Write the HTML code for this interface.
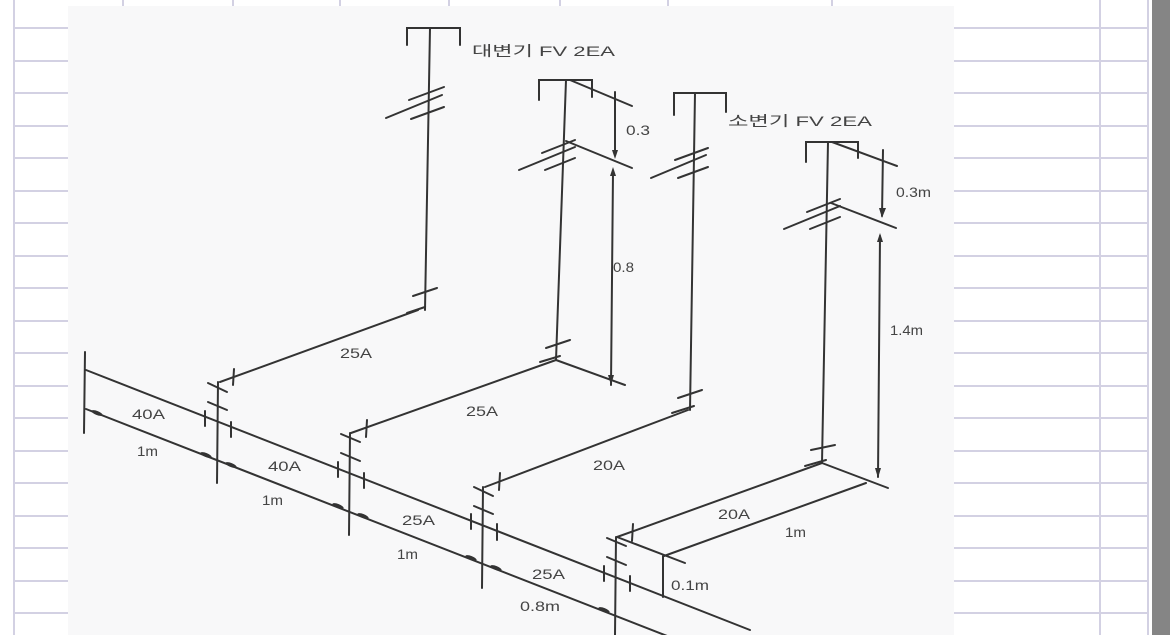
<!DOCTYPE html>
<html><head><meta charset="utf-8"><style>
html,body{margin:0;padding:0;background:#fff;}
svg{display:block;}
text{font-family:"Liberation Sans","Noto Sans CJK KR",sans-serif;font-size:14px;fill:#444;}
</style></head><body>
<svg width="1170" height="635" viewBox="0 0 1170 635" xmlns="http://www.w3.org/2000/svg">
<rect width="1170" height="635" fill="#fff"/>
<g stroke="#d3d1e3" stroke-width="2">
<line x1="14" y1="0" x2="14" y2="635"/>
<line x1="1100" y1="0" x2="1100" y2="635"/>
<line x1="1148" y1="0" x2="1148" y2="635"/>
<line x1="14" y1="28" x2="1148" y2="28"/><line x1="14" y1="61" x2="1148" y2="61"/>
<line x1="14" y1="93" x2="1148" y2="93"/><line x1="14" y1="126" x2="1148" y2="126"/>
<line x1="14" y1="158" x2="1148" y2="158"/><line x1="14" y1="191" x2="1148" y2="191"/>
<line x1="14" y1="223" x2="1148" y2="223"/><line x1="14" y1="256" x2="1148" y2="256"/>
<line x1="14" y1="288" x2="1148" y2="288"/><line x1="14" y1="321" x2="1148" y2="321"/>
<line x1="14" y1="353" x2="1148" y2="353"/><line x1="14" y1="386" x2="1148" y2="386"/>
<line x1="14" y1="418" x2="1148" y2="418"/><line x1="14" y1="451" x2="1148" y2="451"/>
<line x1="14" y1="483" x2="1148" y2="483"/><line x1="14" y1="516" x2="1148" y2="516"/>
<line x1="14" y1="548" x2="1148" y2="548"/><line x1="14" y1="581" x2="1148" y2="581"/>
<line x1="14" y1="613" x2="1148" y2="613"/>
<line x1="123" y1="0" x2="123" y2="10"/><line x1="233" y1="0" x2="233" y2="10"/>
<line x1="340" y1="0" x2="340" y2="10"/><line x1="449" y1="0" x2="449" y2="10"/>
<line x1="560" y1="0" x2="560" y2="10"/><line x1="668" y1="0" x2="668" y2="10"/>
<line x1="832" y1="0" x2="832" y2="10"/>
</g>
<rect x="1152" y="0" width="18" height="635" fill="#858585"/>
<rect x="68" y="6" width="886" height="629" fill="#f8f8f9"/>

<g stroke="#333" stroke-width="2" fill="none" stroke-linecap="round">
<line x1="86" y1="370" x2="750" y2="630"/>
<line x1="86" y1="409" x2="680" y2="641"/>
<line x1="85" y1="352" x2="84" y2="433"/>
<line x1="218" y1="382" x2="217" y2="483"/>
<line x1="350" y1="433" x2="349" y2="535"/>
<line x1="483" y1="487" x2="482" y2="588"/>
<line x1="616" y1="537" x2="615" y2="635"/>
<line x1="220" y1="382" x2="418" y2="310"/>
<line x1="351" y1="433" x2="556" y2="360"/>
<line x1="485" y1="487" x2="688" y2="410"/>
<line x1="617" y1="537" x2="822" y2="463"/>
<line x1="425" y1="310" x2="430" y2="28"/>
<line x1="556" y1="360" x2="566" y2="80"/>
<line x1="690" y1="410" x2="695" y2="93"/>
<line x1="822" y1="463" x2="828" y2="142"/>
<polyline points="407,45 407,28 460,28 460,45"/>
<polyline points="539,100 539,80 592,80 592,97"/>
<polyline points="674,115 674,93 726,93 726,112"/>
<polyline points="806,162 806,142 858,142 858,158"/>
<line x1="386" y1="118" x2="442" y2="95"/><line x1="409" y1="100" x2="444" y2="87"/><line x1="411" y1="119" x2="444" y2="107"/>
<line x1="519" y1="170" x2="575" y2="147"/><line x1="542" y1="153" x2="575" y2="140"/><line x1="545" y1="170" x2="575" y2="158"/>
<line x1="651" y1="178" x2="706" y2="155"/><line x1="675" y1="160" x2="708" y2="148"/><line x1="678" y1="178" x2="708" y2="167"/>
<line x1="784" y1="229" x2="840" y2="206"/><line x1="807" y1="212" x2="840" y2="199"/><line x1="810" y1="229" x2="840" y2="217"/>
<line x1="570" y1="80" x2="632" y2="106"/><line x1="566" y1="141" x2="632" y2="168"/>
<line x1="556" y1="360" x2="625" y2="385"/>
<line x1="832" y1="142" x2="897" y2="166"/><line x1="831" y1="203" x2="896" y2="228"/>
<line x1="822" y1="463" x2="888" y2="488"/>
<line x1="617" y1="537" x2="685" y2="563"/>
<line x1="664" y1="556" x2="866" y2="483"/>
<line x1="663" y1="556" x2="663" y2="597"/>
<line x1="615" y1="92" x2="615" y2="155"/><line x1="613" y1="172" x2="611" y2="385"/>
<line x1="883" y1="150" x2="882" y2="216"/><line x1="880" y1="236" x2="878" y2="477"/>
<line x1="413" y1="296" x2="437" y2="288"/><line x1="407" y1="313" x2="425" y2="307"/>
<line x1="546" y1="348" x2="570" y2="340"/><line x1="540" y1="362" x2="560" y2="356"/>
<line x1="678" y1="398" x2="702" y2="390"/><line x1="672" y1="413" x2="694" y2="406"/>
<line x1="811" y1="450" x2="835" y2="445"/><line x1="805" y1="466" x2="826" y2="460"/>
<line x1="208" y1="383" x2="227" y2="392"/><line x1="208" y1="402" x2="227" y2="410"/>
<line x1="234" y1="369" x2="233" y2="385"/>
<line x1="205" y1="411" x2="205" y2="426"/><line x1="231" y1="422" x2="231" y2="437"/>
<line x1="341" y1="434" x2="360" y2="442"/><line x1="341" y1="453" x2="360" y2="461"/>
<line x1="367" y1="420" x2="366" y2="437"/>
<line x1="338" y1="462" x2="338" y2="477"/><line x1="364" y1="473" x2="364" y2="488"/>
<line x1="474" y1="487" x2="493" y2="496"/><line x1="474" y1="506" x2="493" y2="514"/>
<line x1="500" y1="473" x2="499" y2="490"/>
<line x1="471" y1="514" x2="471" y2="529"/><line x1="497" y1="524" x2="497" y2="540"/>
<line x1="607" y1="538" x2="626" y2="546"/><line x1="607" y1="557" x2="626" y2="565"/>
<line x1="633" y1="524" x2="632" y2="541"/>
<line x1="604" y1="566" x2="604" y2="581"/><line x1="630" y1="576" x2="630" y2="591"/>
</g>
<g fill="#333">
<ellipse cx="97" cy="413" rx="6" ry="2" transform="rotate(21 97 413)"/>
<ellipse cx="206" cy="455" rx="6" ry="2" transform="rotate(21 206 455)"/>
<ellipse cx="231" cy="465" rx="6" ry="2" transform="rotate(21 231 465)"/>
<ellipse cx="338" cy="506" rx="6" ry="2" transform="rotate(21 338 506)"/>
<ellipse cx="363" cy="516" rx="6" ry="2" transform="rotate(21 363 516)"/>
<ellipse cx="471" cy="558" rx="6" ry="2" transform="rotate(21 471 558)"/>
<ellipse cx="496" cy="568" rx="6" ry="2" transform="rotate(21 496 568)"/>
<ellipse cx="604" cy="610" rx="6" ry="2" transform="rotate(21 604 610)"/>
<polygon points="612,150 618,150 615,159"/><polygon points="610,176 616,176 613,167"/>
<polygon points="608,375 614,375 611,385"/>
<polygon points="879,208 886,208 882,218"/><polygon points="877,242 883,242 880,233"/>
<polygon points="875,468 881,468 878,478"/>
</g>
<g>
<text x="472" y="56" textLength="143" lengthAdjust="spacingAndGlyphs">대변기 FV 2EA</text>
<text x="626" y="135" textLength="24" lengthAdjust="spacingAndGlyphs">0.3</text>
<text x="613" y="272" textLength="21" lengthAdjust="spacingAndGlyphs">0.8</text>
<text x="728" y="126" textLength="144" lengthAdjust="spacingAndGlyphs">소변기 FV 2EA</text>
<text x="896" y="197" textLength="35" lengthAdjust="spacingAndGlyphs">0.3m</text>
<text x="890" y="335" textLength="33" lengthAdjust="spacingAndGlyphs">1.4m</text>
<text x="340" y="358" textLength="32" lengthAdjust="spacingAndGlyphs">25A</text>
<text x="466" y="416" textLength="32" lengthAdjust="spacingAndGlyphs">25A</text>
<text x="593" y="470" textLength="32" lengthAdjust="spacingAndGlyphs">20A</text>
<text x="718" y="519" textLength="32" lengthAdjust="spacingAndGlyphs">20A</text>
<text x="785" y="537" textLength="21" lengthAdjust="spacingAndGlyphs">1m</text>
<text x="671" y="590" textLength="38" lengthAdjust="spacingAndGlyphs">0.1m</text>
<text x="132" y="419" textLength="33" lengthAdjust="spacingAndGlyphs">40A</text>
<text x="137" y="456" textLength="21" lengthAdjust="spacingAndGlyphs">1m</text>
<text x="268" y="471" textLength="33" lengthAdjust="spacingAndGlyphs">40A</text>
<text x="262" y="505" textLength="21" lengthAdjust="spacingAndGlyphs">1m</text>
<text x="402" y="525" textLength="33" lengthAdjust="spacingAndGlyphs">25A</text>
<text x="397" y="559" textLength="21" lengthAdjust="spacingAndGlyphs">1m</text>
<text x="532" y="579" textLength="33" lengthAdjust="spacingAndGlyphs">25A</text>
<text x="520" y="611" textLength="40" lengthAdjust="spacingAndGlyphs">0.8m</text>
</g>
</svg>
</body></html>
